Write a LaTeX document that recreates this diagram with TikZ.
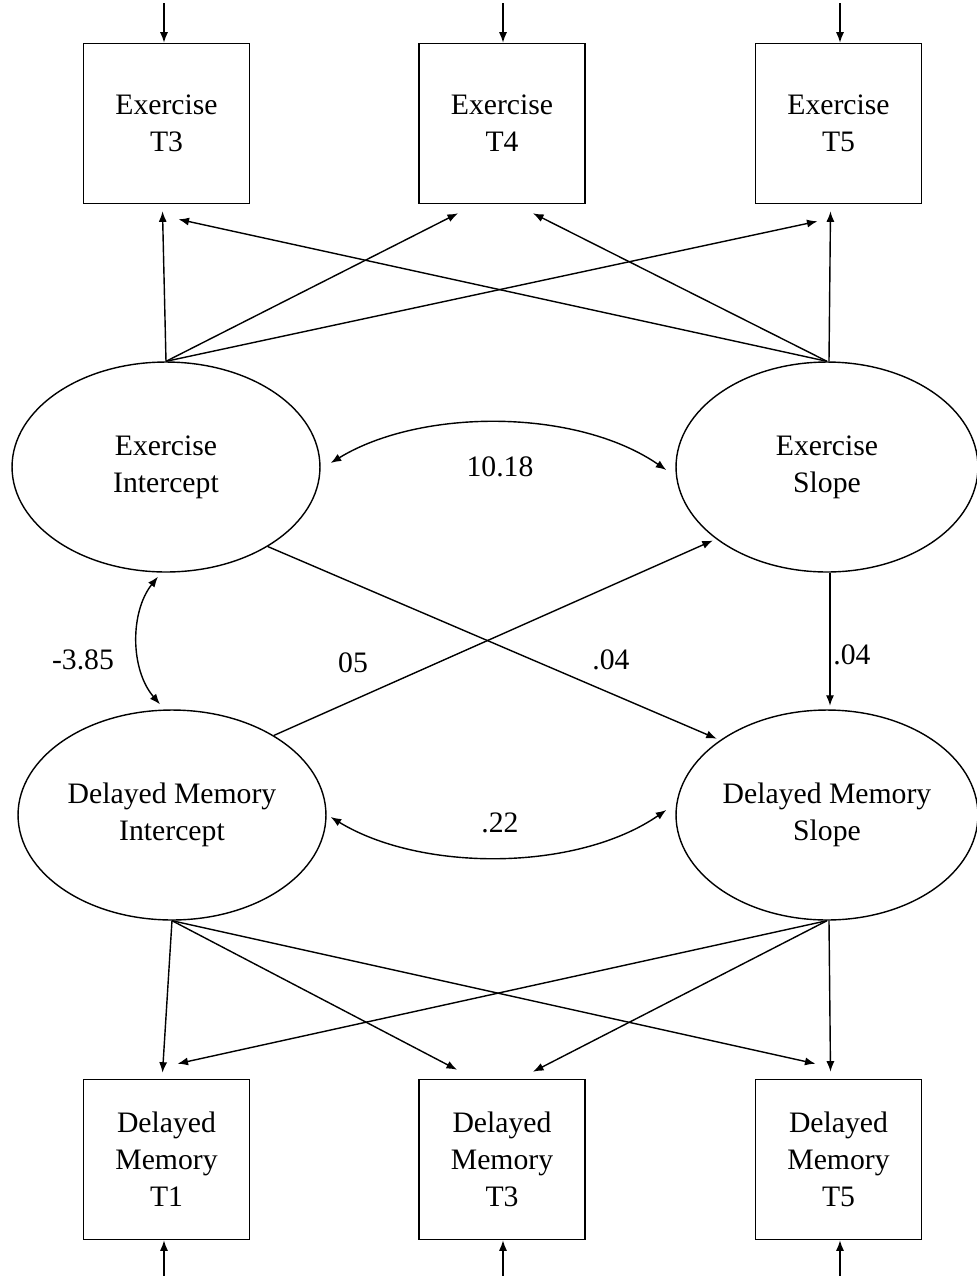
\documentclass[tikz,border=0pt]{standalone}
\usepackage{fontspec}
\setmainfont{Liberation Serif}
\usetikzlibrary{arrows.meta,shapes.geometric,calc}

\begin{document}
\begin{tikzpicture}[x=0.02cm,y=-0.02cm,
  every node/.style={font=\fontsize{16.9}{21}\selectfont, align=center},
  obsbox/.style={draw, line width=0.9pt, rectangle, inner sep=0pt,
                 minimum width=3.32cm, minimum height=3.2cm},
  latent/.style={draw, line width=0.8pt, ellipse, inner sep=0pt,
                 minimum height=4.2cm},
  path/.style={line width=0.8pt, -{Latex[length=6pt,width=4.6pt]}},
  cov/.style={line width=0.8pt, {Latex[length=6pt,width=4.6pt]}-{Latex[length=6pt,width=4.6pt]}},
  lbl/.style={inner sep=1pt}
]
% page frame
\useasboundingbox (0,0) rectangle (977,1276);

% observed exercise measures
\node[obsbox] (x3) at (166.5,123.5) {Exercise\\T3};
\node[obsbox] (x4) at (502,123.5) {Exercise\\T4};
\node[obsbox] (x5) at (838.5,123.5) {Exercise\\T5};

% latent growth factors
\node[latent, minimum width=6.16cm] (ei) at (166,467) {Exercise\\Intercept};
\node[latent, minimum width=6.04cm] (es) at (827,467) {Exercise\\Slope};
\node[latent, minimum width=6.16cm] (mi) at (172,815) {Delayed Memory\\Intercept};
\node[latent, minimum width=6.04cm] (ms) at (827,815) {Delayed Memory\\Slope};

% observed memory measures
\node[obsbox] (m1) at (166.5,1159.5) {Delayed\\Memory\\T1};
\node[obsbox] (m3) at (502,1159.5) {Delayed\\Memory\\T3};
\node[obsbox] (m5) at (838.5,1159.5) {Delayed\\Memory\\T5};

% residual arrows
\coordinate (ex3) at (164,3);
\coordinate (ex4) at (503,3);
\coordinate (ex5) at (840,3);
\coordinate (em1) at (164,1276);
\coordinate (em3) at (503,1276);
\coordinate (em5) at (840,1276);
\draw[path] (ex3) -- (ex3 |- x3.north);
\draw[path] (ex4) -- (ex4 |- x4.north);
\draw[path] (ex5) -- (ex5 |- x5.north);
\draw[path] (em1) -- (em1 |- m1.south);
\draw[path] (em3) -- (em3 |- m3.south);
\draw[path] (em5) -- (em5 |- m5.south);

% exercise loadings
\draw[path] (ei.north) -- ($(x3.south)+(-4,7)$);
\draw[path] (ei.north) -- ($(x4.south)+(-44,9)$);
\draw[path] (ei.north) -- ($(x5.south)+(-21,17)$);
\draw[path] (es.north) -- ($(x3.south)+(12,15)$);
\draw[path] (es.north) -- ($(x4.south)+(31,9)$);
\draw[path] ($(es.north)+(2,0)$) -- ($(x5.south)+(-8,7)$);

% memory loadings
\draw[path] (mi.south) -- ($(m1.north)+(-4,-6)$);
\draw[path] (mi.south) -- ($(m3.north)+(-45,-9)$);
\draw[path] (mi.south) -- ($(m5.north)+(-23,-15)$);
\draw[path] (ms.south) -- ($(m1.north)+(11,-15)$);
\draw[path] (ms.south) -- ($(m3.north)+(31,-7)$);
\draw[path] ($(ms.south)+(2,0)$) -- ($(m5.north)+(-8,-7)$);

% structural paths
\draw[path, shorten >=2pt] (ei.-38) -- (ms.145);
\draw[path, shorten >=2pt] (mi.38) -- (es.-147);
\draw[path, shorten >=2pt] ($(es.south)+(3,0)$) -- ($(ms.north)+(3,0)$);

% covariances
\draw[cov] ($(ei.east)+(10,-4)$) .. controls +(90,-55) and +(-90,-62) .. ($(es.west)+(-9,3)$);
\draw[cov] ($(ei.south)+(-8,4)$) .. controls +(-28,35) and +(-30,-35) .. ($(mi.north)+(-12,-5)$);
\draw[cov] ($(mi.east)+(4,2)$) .. controls +(90,55) and +(-90,62) .. ($(ms.west)+(-9,-5)$);

% estimates
\node[lbl] (l1) at (500,467) {10.18};
\node[lbl] (l2) at (611,660) {.04};
\node[lbl] (l3) at (353,663) {05};
\node[lbl] (l4) at (852,655) {.04};
\node[lbl] (l5) at (83,660) {-3.85};
\node[lbl] (l6) at (500,823) {.22};
\end{tikzpicture}
\end{document}
